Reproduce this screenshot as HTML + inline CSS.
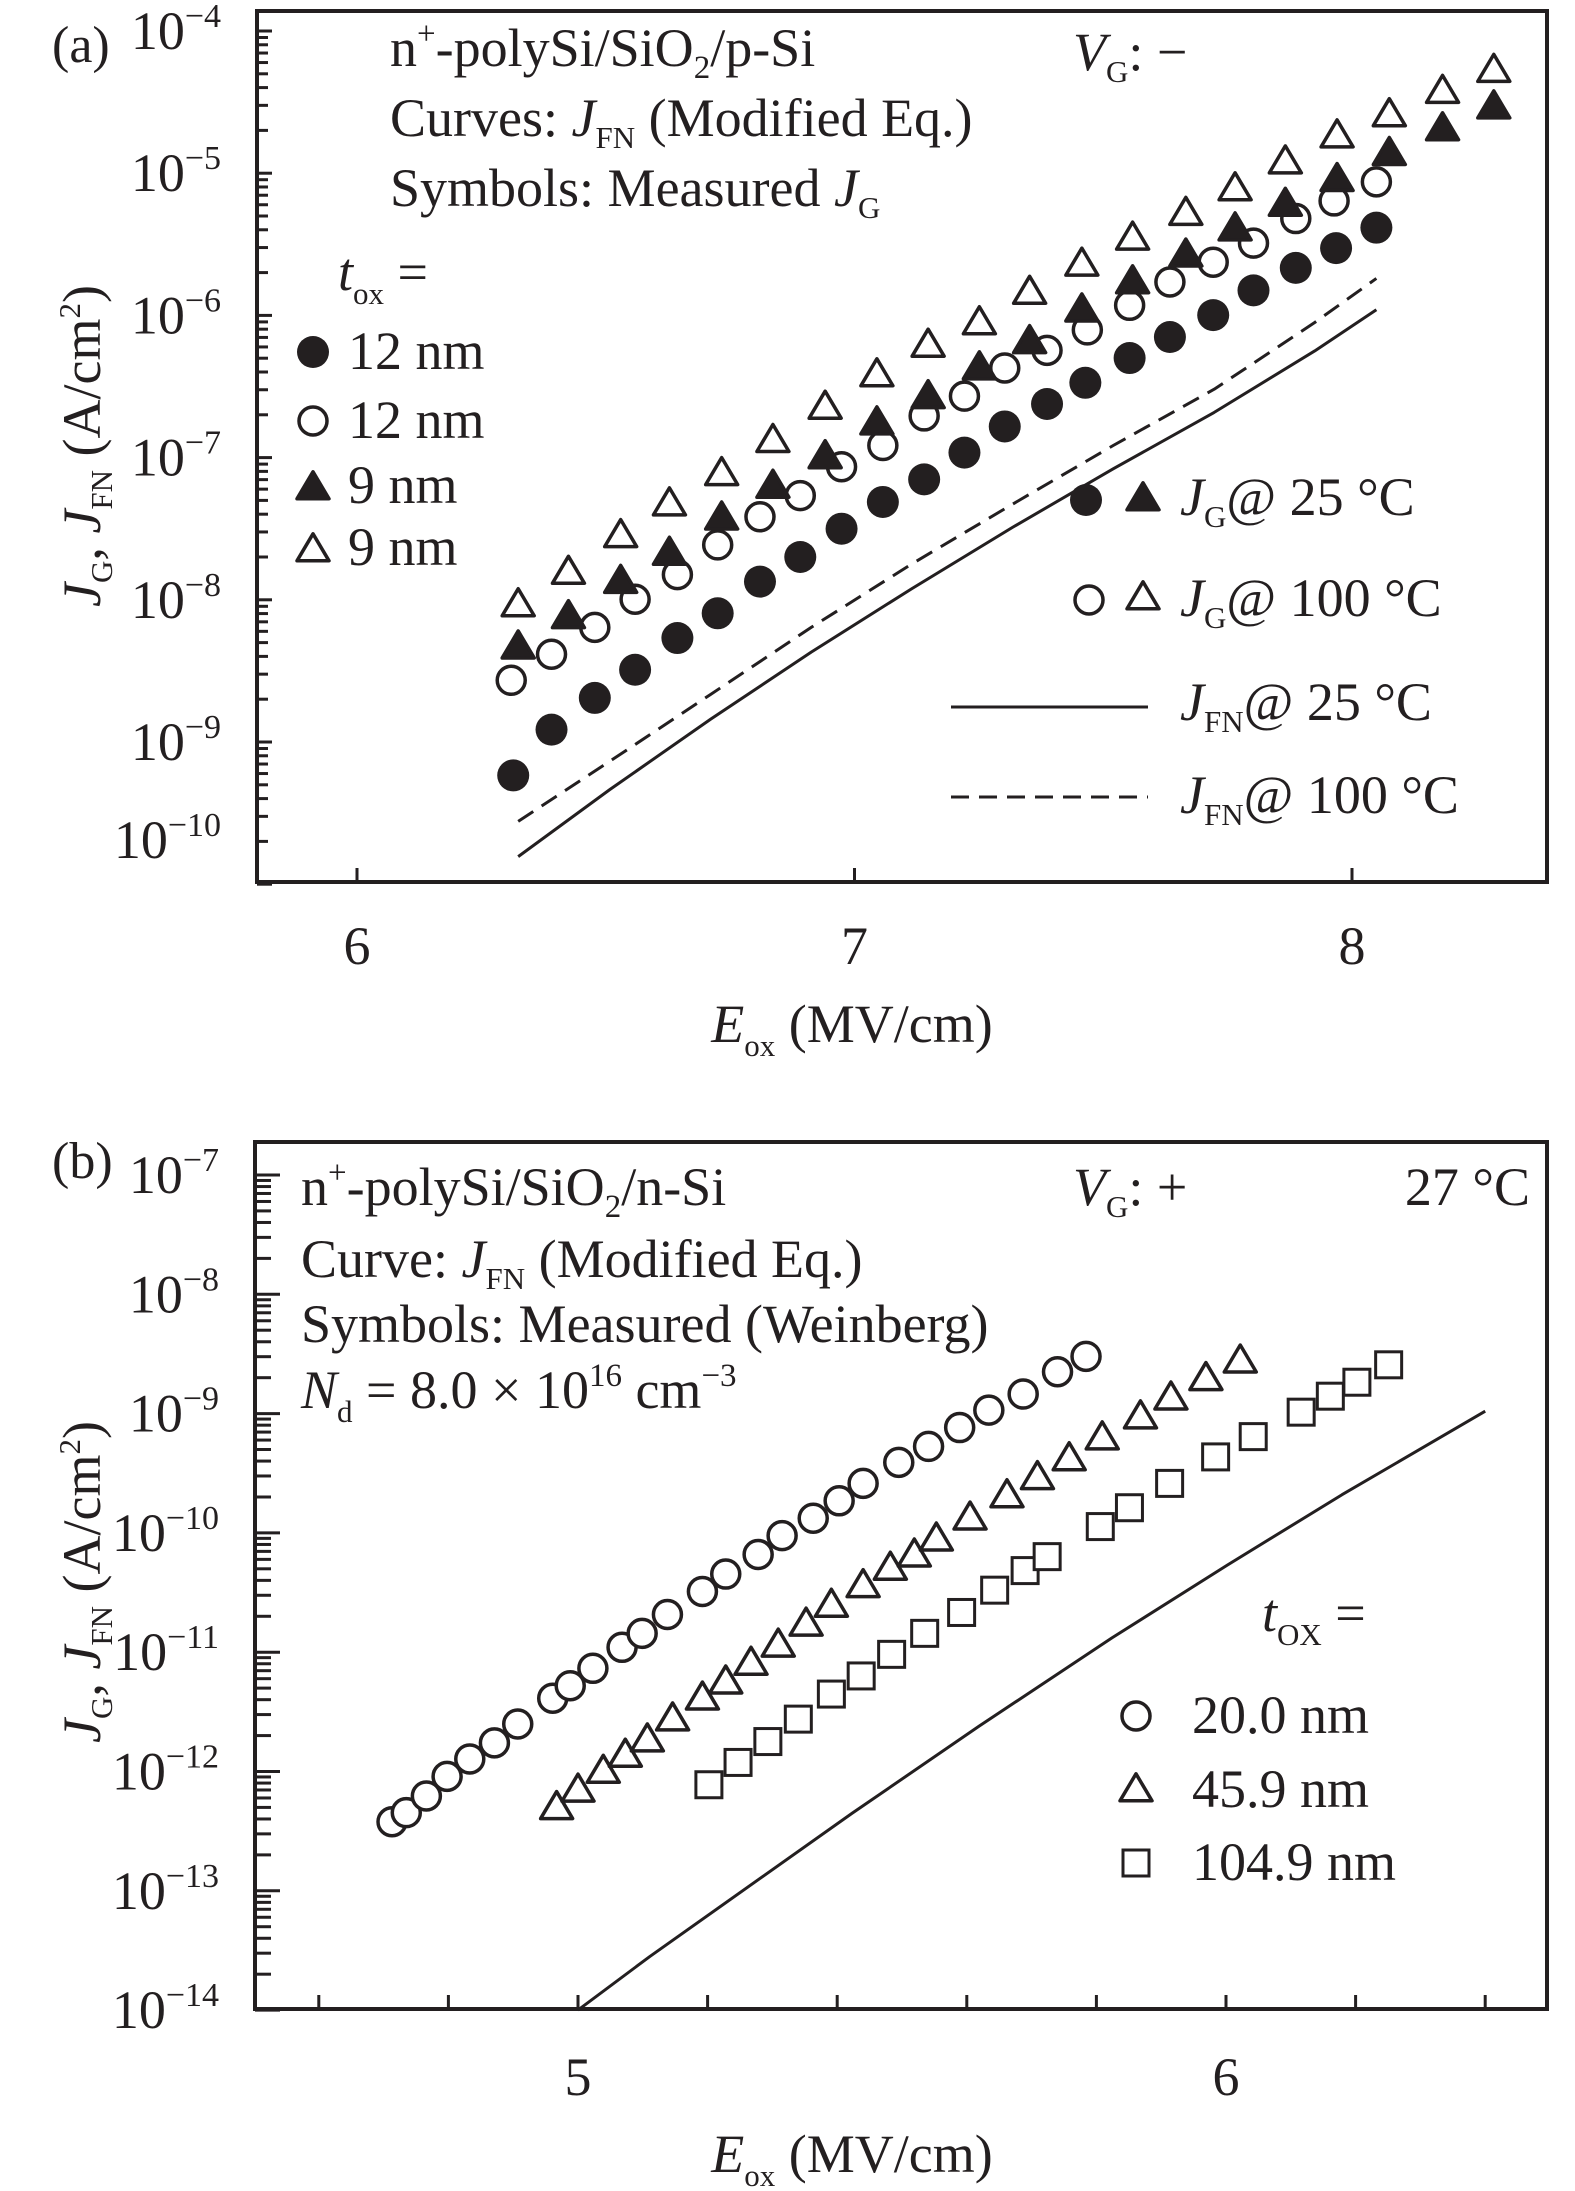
<!DOCTYPE html>
<html><head><meta charset="utf-8"><style>
html,body{margin:0;padding:0;background:#fff;}
svg{display:block;font-family:"Liberation Serif",serif;fill:#231f20;}
text{fill:#231f20;}
</style></head><body>
<svg id="fig" width="1575" height="2191" viewBox="0 0 1575 2191" xmlns="http://www.w3.org/2000/svg">
<g id="pa">
  <rect x="257" y="11" width="1290" height="871" fill="none" stroke="#231f20" stroke-width="4"/>
  <text x="52" y="62" font-size="52">(a)</text>
  <text x="390" y="66" font-size="54">n<tspan font-size="33" dy="-22">+</tspan><tspan dy="22">-polySi/SiO</tspan><tspan font-size="33" dy="12">2</tspan><tspan dy="-12">/p-Si</tspan></text>
  <text x="390" y="136" font-size="54">Curves: <tspan font-style="italic">J</tspan><tspan font-size="31" dy="12">FN</tspan><tspan dy="-12"> (Modified Eq.)</tspan></text>
  <text x="390" y="206" font-size="54">Symbols: Measured <tspan font-style="italic">J</tspan><tspan font-size="31" dy="12">G</tspan></text>
  <text x="1073" y="70" font-size="54"><tspan font-style="italic">V</tspan><tspan font-size="31" dy="12">G</tspan><tspan dy="-12">: −</tspan></text>
  <text x="338" y="290" font-size="54"><tspan font-style="italic">t</tspan><tspan font-size="31" dy="14">ox</tspan><tspan dy="-14"> =</tspan></text>
  <text x="348" y="369" font-size="54">12 nm</text>
  <text x="348" y="438" font-size="54">12 nm</text>
  <text x="348" y="503" font-size="54">9 nm</text>
  <text x="348" y="565" font-size="54">9 nm</text>
  <text x="1180" y="515" font-size="54"><tspan font-style="italic">J</tspan><tspan font-size="31" dy="12">G</tspan><tspan dy="-12">@ 25 °C</tspan></text>
  <text x="1180" y="616" font-size="54"><tspan font-style="italic">J</tspan><tspan font-size="31" dy="12">G</tspan><tspan dy="-12">@ 100 °C</tspan></text>
  <text x="1180" y="720" font-size="54"><tspan font-style="italic">J</tspan><tspan font-size="31" dy="12">FN</tspan><tspan dy="-12">@ 25 °C</tspan></text>
  <text x="1180" y="813" font-size="54"><tspan font-style="italic">J</tspan><tspan font-size="31" dy="12">FN</tspan><tspan dy="-12">@ 100 °C</tspan></text>
  <line x1="951" y1="707" x2="1148" y2="707" stroke="#231f20" stroke-width="3"/>
  <line x1="951" y1="797" x2="1148" y2="797" stroke="#231f20" stroke-width="3" stroke-dasharray="18 10"/>
  <text x="852" y="1042" font-size="54" text-anchor="middle"><tspan font-style="italic">E</tspan><tspan font-size="31" dy="14">ox</tspan><tspan dy="-14"> (MV/cm)</tspan></text>
  <text transform="translate(100,446) rotate(-90)" font-size="54" text-anchor="middle"><tspan font-style="italic">J</tspan><tspan font-size="31" dy="12">G</tspan><tspan dy="-12">, </tspan><tspan font-style="italic">J</tspan><tspan font-size="31" dy="12">FN</tspan><tspan dy="-12"> (A/cm</tspan><tspan font-size="31" dy="-20">2</tspan><tspan dy="20">)</tspan></text>
</g>
<g id="pb">
  <rect x="255" y="1142" width="1292" height="867" fill="none" stroke="#231f20" stroke-width="4"/>
  <text x="52" y="1178" font-size="52">(b)</text>
  <text x="301" y="1205" font-size="54">n<tspan font-size="33" dy="-22">+</tspan><tspan dy="22">-polySi/SiO</tspan><tspan font-size="33" dy="12">2</tspan><tspan dy="-12">/n-Si</tspan></text>
  <text x="301" y="1277" font-size="54">Curve: <tspan font-style="italic">J</tspan><tspan font-size="31" dy="12">FN</tspan><tspan dy="-12"> (Modified Eq.)</tspan></text>
  <text x="301" y="1342" font-size="54">Symbols: Measured (Weinberg)</text>
  <text x="301" y="1408" font-size="54"><tspan font-style="italic">N</tspan><tspan font-size="31" dy="14">d</tspan><tspan dy="-14"> = 8.0 × 10</tspan><tspan font-size="33" dy="-22">16</tspan><tspan dy="22"> cm</tspan><tspan font-size="33" dy="-22">−3</tspan></text>
  <text x="1073" y="1205" font-size="54"><tspan font-style="italic">V</tspan><tspan font-size="31" dy="12">G</tspan><tspan dy="-12">: +</tspan></text>
  <text x="1530" y="1205" font-size="54" text-anchor="end">27 °C</text>
  <text x="1262" y="1631" font-size="54"><tspan font-style="italic">t</tspan><tspan font-size="31" dy="14">OX</tspan><tspan dy="-14"> =</tspan></text>
  <text x="1192" y="1733" font-size="54">20.0 nm</text>
  <text x="1192" y="1807" font-size="54">45.9 nm</text>
  <text x="1192" y="1880" font-size="54">104.9 nm</text>
  <text x="852" y="2172" font-size="54" text-anchor="middle"><tspan font-style="italic">E</tspan><tspan font-size="31" dy="14">ox</tspan><tspan dy="-14"> (MV/cm)</tspan></text>
  <text transform="translate(100,1582) rotate(-90)" font-size="54" text-anchor="middle"><tspan font-style="italic">J</tspan><tspan font-size="31" dy="12">G</tspan><tspan dy="-12">, </tspan><tspan font-style="italic">J</tspan><tspan font-size="31" dy="12">FN</tspan><tspan dy="-12"> (A/cm</tspan><tspan font-size="31" dy="-20">2</tspan><tspan dy="20">)</tspan></text>
</g>
</svg>
<script>
// ---------- Panel (a) data (Eox in MV/cm, log10 J) ----------
const aXTicks = [6, 7, 8];
const aYDecades = [-4, -5, -6, -7, -8, -9, -10];
const aFilledCircX = [6.314,6.391,6.478,6.559,6.644,6.725,6.810,6.891,6.974,7.057,7.140,7.221,7.302,7.387,7.464,7.553,7.634,7.721,7.802,7.887,7.968,8.049];
const aFilledCircLogJ = [-9.235,-8.913,-8.690,-8.492,-8.269,-8.095,-7.872,-7.699,-7.500,-7.312,-7.153,-6.965,-6.781,-6.623,-6.474,-6.300,-6.152,-5.998,-5.824,-5.666,-5.527,-5.383];
const aOpenCircX = [6.310,6.391,6.478,6.559,6.644,6.725,6.810,6.891,6.974,7.057,7.140,7.221,7.302,7.387,7.468,7.553,7.634,7.721,7.802,7.887,7.964,8.049];
const aOpenCircLogJ = [-8.566,-8.383,-8.194,-7.996,-7.823,-7.614,-7.416,-7.267,-7.064,-6.915,-6.707,-6.568,-6.370,-6.246,-6.102,-5.929,-5.765,-5.626,-5.492,-5.319,-5.195,-5.061];
const aFilledTriX = [6.324,6.425,6.530,6.628,6.733,6.836,6.941,7.045,7.148,7.251,7.352,7.457,7.559,7.666,7.765,7.866,7.970,8.075,8.182,8.285];
const aFilledTriLogJ = [-8.333,-8.120,-7.872,-7.674,-7.426,-7.203,-6.995,-6.757,-6.573,-6.370,-6.186,-5.963,-5.765,-5.577,-5.393,-5.220,-5.046,-4.863,-4.689,-4.535];
const aOpenTriX = [6.324,6.425,6.530,6.628,6.733,6.836,6.941,7.045,7.148,7.251,7.352,7.457,7.559,7.666,7.765,7.866,7.970,8.075,8.182,8.285];
const aOpenTriLogJ = [-8.036,-7.808,-7.550,-7.327,-7.114,-6.881,-6.647,-6.419,-6.211,-6.053,-5.839,-5.641,-5.458,-5.284,-5.111,-4.922,-4.739,-4.590,-4.426,-4.278];
const aFn25X = [6.324,6.508,6.711,6.913,7.115,7.318,7.520,7.723,7.925,8.049];
const aFn25LogJ = [-9.806,-9.335,-8.839,-8.368,-7.922,-7.490,-7.079,-6.682,-6.250,-5.960];
const aFn100X = [6.324,6.508,6.711,6.913,7.115,7.318,7.520,7.723,7.925,8.049];
const aFn100LogJ = [-9.558,-9.136,-8.665,-8.194,-7.748,-7.327,-6.915,-6.519,-6.050,-5.740];

// ---------- Panel (b) data ----------
const bXTicks = [4.6,4.8,5.0,5.2,5.4,5.6,5.8,6.0,6.2,6.4];
const bXLabels = [5, 6];
const bYDecades = [-7,-8,-9,-10,-11,-12,-13,-14];
const bCircX = [4.713,4.735,4.766,4.798,4.833,4.871,4.907,4.961,4.988,5.023,5.068,5.099,5.138,5.192,5.228,5.278,5.315,5.363,5.403,5.440,5.495,5.541,5.589,5.634,5.687,5.740,5.784];
const bCircLogJ = [-12.421,-12.345,-12.205,-12.041,-11.895,-11.760,-11.602,-11.386,-11.281,-11.135,-10.959,-10.842,-10.684,-10.491,-10.345,-10.181,-10.023,-9.877,-9.731,-9.585,-9.409,-9.275,-9.117,-8.971,-8.836,-8.649,-8.520];
const bTriX = [4.967,5.000,5.039,5.073,5.107,5.146,5.192,5.228,5.267,5.309,5.352,5.391,5.440,5.482,5.519,5.553,5.605,5.662,5.709,5.758,5.809,5.868,5.915,5.969,6.022];
const bTriLogJ = [-12.304,-12.158,-12.000,-11.865,-11.737,-11.561,-11.386,-11.251,-11.094,-10.942,-10.766,-10.608,-10.444,-10.298,-10.187,-10.053,-9.877,-9.690,-9.538,-9.380,-9.205,-9.029,-8.871,-8.708,-8.561];
const bSqX = [5.202,5.247,5.293,5.340,5.391,5.437,5.484,5.535,5.592,5.643,5.690,5.724,5.806,5.851,5.913,5.984,6.042,6.116,6.161,6.202,6.251];
const bSqLogJ = [-12.111,-11.924,-11.749,-11.561,-11.351,-11.199,-11.018,-10.842,-10.667,-10.480,-10.316,-10.199,-9.947,-9.789,-9.585,-9.363,-9.193,-8.988,-8.854,-8.737,-8.591];
const bFnX = [5.000,5.111,5.423,5.619,5.824,6.002,6.179,6.400];
const bFnLogJ = [-14.00,-13.55,-12.35,-11.62,-10.88,-10.27,-9.68,-8.98];

// ---------- axis functions ----------
const axA = {x:v=>357+(v-6)*497.5, y:l=>31+(-4-l)*142.2, left:257, bottom:882};
const axB = {x:v=>578+(v-5)*648, y:l=>1175+(-7-l)*119.3, left:255, bottom:2009};
const NS='http://www.w3.org/2000/svg';
const C='#231f20';
function mk(parent,tag,attrs){const e=document.createElementNS(NS,tag);for(const k in attrs)e.setAttribute(k,attrs[k]);parent.appendChild(e);return e;}

function tickLabel(g,x,y,exp,name){
  const t=mk(g,'text',{x:x,y:y,'font-size':'54','text-anchor':'end'});
  
  
  t.appendChild(document.createTextNode('10'));
  const s=document.createElementNS(NS,'tspan');s.setAttribute('font-size','34');s.setAttribute('dy','-22');
  s.textContent='−'+Math.abs(exp);t.appendChild(s);
}
function yAxis(g,ax,decades,majLen,minLen,labelFix){
  decades.forEach((d,i)=>{
    const y=ax.y(d);
    const t=mk(g,'line',{x1:ax.left,y1:y,x2:ax.left+majLen,y2:y,stroke:C,'stroke-width':3});
    
    
    let ly=y+18; if(labelFix && i===decades.length-1) ly=y-26;
    tickLabel(g,ax.left-36,ly,d,'y-tick-label');
    if(i>0){ for(let k=2;k<=9;k++){
      const yy=ax.y(d+Math.log10(k));
      const m=mk(g,'line',{x1:ax.left,y1:yy,x2:ax.left+minLen,y2:yy,stroke:C,'stroke-width':3});
      
      
    }}
  });
}
function xTicks(g,ax,ticks,len){
  ticks.forEach(v=>{const x=ax.x(v);
    const t=mk(g,'line',{x1:x,y1:ax.bottom,x2:x,y2:ax.bottom-len,stroke:C,'stroke-width':3});
    
    
  });
}
function xLabels(g,ax,vals,y){
  vals.forEach(v=>{const t=mk(g,'text',{x:ax.x(v),y:y,'font-size':'54','text-anchor':'middle'});
    
    
    t.textContent=String(v);});
}
function marker(g,type,x,y,name){
  let e;
  if(type==='fc'){e=mk(g,'circle',{cx:x,cy:y,r:16,fill:C});}
  else if(type==='oc'){e=mk(g,'circle',{cx:x,cy:y,r:14,fill:'#fff',stroke:C,'stroke-width':3.5});}
  else if(type==='ft'||type==='ot'){const h=27,w=16;
    e=mk(g,'polygon',{points:`${x},${y-h*0.6} ${x+w},${y+h*0.4} ${x-w},${y+h*0.4}`,
      fill:type==='ft'?C:'#fff',stroke:C,'stroke-width':3.5,'stroke-linejoin':'round'});}
  else if(type==='sq'){e=mk(g,'rect',{x:x-13,y:y-13,width:26,height:26,fill:'#fff',stroke:C,'stroke-width':3});}
  
  
  return e;
}
function series(g,ax,xs,ls,type,name){
  const sg=mk(g,'g',{});
  
  
  xs.forEach((v,i)=>marker(sg,type,ax.x(v),ax.y(ls[i]),name+'-point'));
}
function curve(g,ax,xs,ls,dash,name){
  const pts=xs.map((v,i)=>ax.x(v)+','+ax.y(ls[i])).join(' ');
  const p=mk(g,'polyline',{points:pts,fill:'none',stroke:C,'stroke-width':3,'stroke-linejoin':'round'});
  if(dash)p.setAttribute('stroke-dasharray','18 10');
  
  
}

const ga=document.getElementById('pa');
const gb=document.getElementById('pb');
yAxis(ga,axA,aYDecades,15,11,true);
xTicks(ga,axA,aXTicks,14);
xLabels(ga,axA,aXTicks,964);
curve(ga,axA,aFn25X,aFn25LogJ,false,'jfn-25c-curve');
curve(ga,axA,aFn100X,aFn100LogJ,true,'jfn-100c-curve');
series(ga,axA,aFilledCircX,aFilledCircLogJ,'fc','jg-12nm-25c');
series(ga,axA,aOpenCircX,aOpenCircLogJ,'oc','jg-12nm-100c');
series(ga,axA,aFilledTriX,aFilledTriLogJ,'ft','jg-9nm-25c');
series(ga,axA,aOpenTriX,aOpenTriLogJ,'ot','jg-9nm-100c');
marker(ga,'fc',313,352,'legend-marker-12nm-25');
marker(ga,'oc',313,421,'legend-marker-12nm-100');
marker(ga,'ft',313,488,'legend-marker-9nm-25');
marker(ga,'ot',313,550,'legend-marker-9nm-100');
marker(ga,'fc',1086,500,'legend-marker-jg25-circle');
marker(ga,'ft',1143,499,'legend-marker-jg25-triangle');
marker(ga,'oc',1089,600,'legend-marker-jg100-circle');
marker(ga,'ot',1143,598,'legend-marker-jg100-triangle');

yAxis(gb,axB,bYDecades,25,16,false);
xTicks(gb,axB,bXTicks,14);
xLabels(gb,axB,bXLabels,2095);
curve(gb,axB,bFnX,bFnLogJ,false,'jfn-curve-b');
series(gb,axB,bCircX,bCircLogJ,'oc','jg-20nm');
series(gb,axB,bTriX,bTriLogJ,'ot','jg-45nm');
series(gb,axB,bSqX,bSqLogJ,'sq','jg-104nm');
marker(gb,'oc',1136,1716,'legend-marker-20nm');
marker(gb,'ot',1136,1790,'legend-marker-45nm');
marker(gb,'sq',1136,1863,'legend-marker-104nm');
</script>
</body></html>
